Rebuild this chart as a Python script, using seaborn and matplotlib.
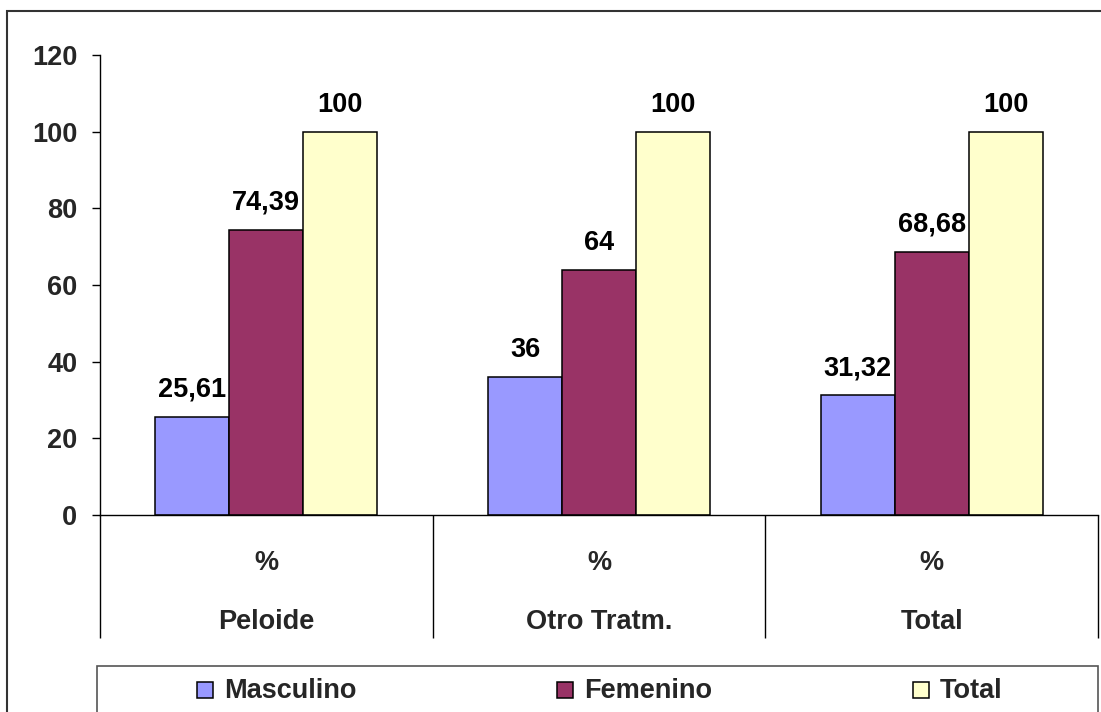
import matplotlib
matplotlib.use("Agg")
import matplotlib.pyplot as plt
import matplotlib.transforms as mtransforms
from matplotlib.patches import Rectangle
import seaborn as sns
import pandas as pd

# ---- data ----
categories = ["Peloide", "Otro Tratm.", "Total"]
sub_label = "%"
series_names = ["Masculino", "Femenino", "Total"]
masculino = [25.61, 36, 31.32]
femenino = [74.39, 64, 68.68]
total = [100, 100, 100]
series_colors = ["#9999FF", "#993366", "#FFFFCC"]
y_ticks = [0, 20, 40, 60, 80, 100, 120]

df = pd.DataFrame({
    "grupo": categories * len(series_names),
    "serie": [s for s in series_names for _ in categories],
    "valor": masculino + femenino + total,
})

sns.set_theme(style="white")
plt.rcParams["font.family"] = ["Liberation Sans", "DejaVu Sans"]
plt.rcParams["font.weight"] = "bold"

FS = 19.5
W, H = 1101, 712
fig = plt.figure(figsize=(W / 100, H / 100), dpi=100)
fig.patch.set_facecolor("white")

# plot area in pixel terms
x0, x1, y_top, y_zero = 100, 1098, 55, 515
ax = fig.add_axes([x0 / W, (H - y_zero) / H, (x1 - x0) / W, (y_zero - y_top) / H])
ax.set_facecolor("white")

sns.barplot(
    data=df, x="grupo", y="valor", hue="serie",
    order=categories, hue_order=series_names,
    palette=series_colors, saturation=1, width=0.667,
    edgecolor="black", linewidth=1.1, legend=False, ax=ax,
)

ax.set_xlim(-0.5, len(categories) - 0.5)
ax.set_ylim(0, 120)
ax.set_yticks(y_ticks)
ax.set_yticklabels([str(t) for t in y_ticks], fontsize=FS, fontweight="bold")
ax.tick_params(axis="y", direction="out", length=5.8, width=1.0, color="black",
               pad=10.5, left=True)
ax.tick_params(axis="x", length=0, labelbottom=False)
ax.set_xlabel("")
ax.set_ylabel("")
for side in ("top", "right"):
    ax.spines[side].set_visible(False)
for side in ("left", "bottom"):
    ax.spines[side].set_color("black")
    ax.spines[side].set_linewidth(1.0)

# value labels on top of the bars
def fmt(v):
    return f"{v:g}".replace(".", ",")

for cont, vals in zip(ax.containers, [masculino, femenino, total]):
    ax.bar_label(cont, labels=[fmt(v) for v in vals], padding=10,
                 fontsize=FS, fontweight="bold", color="black")

# category table under the axis
blend = mtransforms.blended_transform_factory(ax.transData, ax.transAxes)
table_bottom = (y_zero - 638) / (y_zero - y_top)
for xv in [i - 0.5 for i in range(len(categories) + 1)]:
    ax.plot([xv, xv], [0, table_bottom], transform=blend, color="black",
            lw=1.0, clip_on=False, solid_capstyle="butt")
y_pct = (y_zero - 570) / (y_zero - y_top)
y_cat = (y_zero - 629) / (y_zero - y_top)
for i, cat in enumerate(categories):
    ax.text(i, y_pct, sub_label, transform=blend, ha="center", va="baseline",
            fontsize=FS, fontweight="bold")
    ax.text(i, y_cat, cat, transform=blend, ha="center", va="baseline",
            fontsize=FS, fontweight="bold")

# outer chart border
fig.add_artist(Rectangle((7 / W, -0.1), 1.2, (H - 11) / H + 0.1,
                         transform=fig.transFigure, fill=False,
                         edgecolor="#333333", lw=1.5))

# legend box with entries
fig.add_artist(Rectangle((97 / W, -0.1), (1098 - 97) / W, (H - 666) / H + 0.1,
                         transform=fig.transFigure, fill=False,
                         edgecolor="#555555", lw=1.2))
marker_x = [197, 557, 913]
for mx, name, col in zip(marker_x, series_names, series_colors):
    fig.add_artist(Rectangle((mx / W, (H - 698) / H), 16 / W, 16 / H,
                             transform=fig.transFigure, facecolor=col,
                             edgecolor="black", lw=1.1))
    fig.text((mx + 27) / W, (H - 698) / H, name, ha="left", va="baseline",
             fontsize=FS, fontweight="bold")

fig.savefig("out.png", dpi=100, facecolor="white")
